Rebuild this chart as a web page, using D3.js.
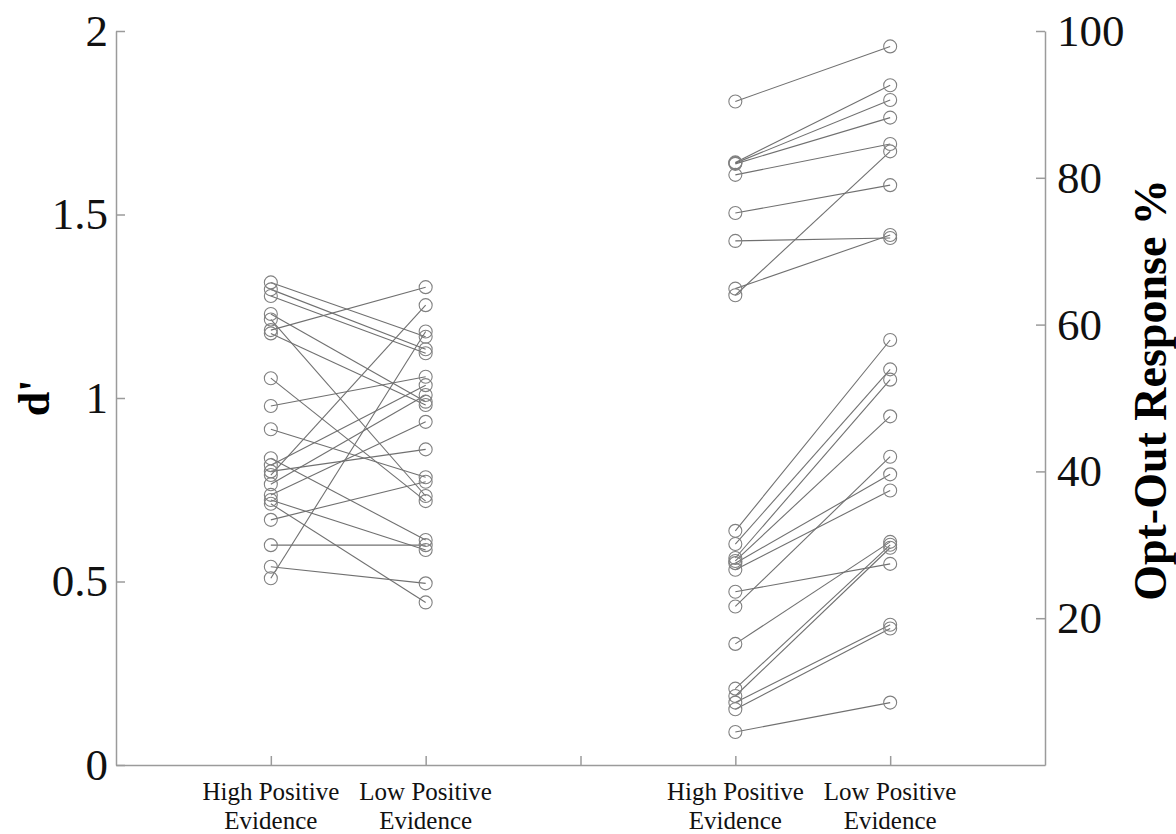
<!DOCTYPE html>
<html>
<head>
<meta charset="utf-8">
<script src="https://cdn.jsdelivr.net/npm/d3@7"></script>
<style>
  body { margin: 0; background: #fff; }
  svg { display: block; }
</style>
</head>
<body>
<svg id="chart" width="1176" height="834"></svg>
<script>

// categories on the shared x axis (group 1 = d', group 2 = opt-out)
const conditions = ["High Positive|Evidence", "Low Positive|Evidence"];
const dPrimePos = [1, 2];
const optOutPos = [4, 5];

// d' per participant (high -> low positive evidence)
const dPrimeHigh = [1.315, 1.296, 1.278, 1.229, 1.214, 1.185, 1.176, 1.054, 0.978, 0.915, 0.836,
                    0.817, 0.800, 0.790, 0.765, 0.736, 0.722, 0.712, 0.668, 0.599, 0.540, 0.509];
const dPrimeLow  = [1.167, 1.133, 1.122, 0.990, 0.733, 1.302, 0.981, 0.719, 1.058, 0.784, 0.613,
                    1.035, 0.860, 1.253, 1.008, 0.935, 0.586, 0.443, 0.772, 0.599, 0.495, 1.181];

// opt-out response % per participant
const optOutHigh = [90.4, 82.1, 82.0, 81.9, 80.4, 75.2, 71.4, 64.9, 64.0,
                    31.9, 30.1, 28.2, 27.8, 27.5, 26.6, 23.6, 21.6, 16.5, 10.4, 9.4, 8.5, 7.6, 4.5];
const optOutLow  = [97.9, 92.6, 90.6, 88.2, 84.6, 79.0, 71.8, 72.2, 83.6,
                    57.9, 53.9, 52.5, 47.5, 39.6, 37.4, 27.4, 42.0, 30.4, 30.0, 29.6, 19.1, 18.6, 8.5];

const dPrimeTicks = [0, 0.5, 1, 1.5, 2];
const optOutTicks = [20, 40, 60, 80, 100];

const vars = {
    width: 1176,
    height: 834,
    margin: { left: 116, right: 131, top: 31, bottom: 69 },
    axisColor: "#9b9b9b",
    lineColor: "#707070",
    dotColor: "#808080",
    radius: 6.5,
    font: "'Liberation Serif', 'Times New Roman', serif"
};

const svg = d3.select("#chart");

const x = d3.scaleLinear()
    .domain([0, 6])
    .range([vars.margin.left, vars.width - vars.margin.right]);

const yLeft = d3.scaleLinear()
    .domain([0, 2])
    .range([vars.height - vars.margin.bottom, vars.margin.top]);

const yRight = d3.scaleLinear()
    .domain([0, 100])
    .range([vars.height - vars.margin.bottom, vars.margin.top]);

//
// AXES
//

const styleAxis = (g, size) => {
    g.select(".domain").attr("stroke", vars.axisColor).attr("stroke-width", 1.5);
    g.selectAll(".tick line").attr("stroke", vars.axisColor).attr("stroke-width", 1.5);
    g.selectAll(".tick text")
        .attr("fill", "#111")
        .style("font-family", vars.font)
        .style("font-size", size + "px");
};

svg.append("g")
    .attr("transform", `translate(0, ${vars.height - vars.margin.bottom})`)
    .call(d3.axisBottom(x).tickValues([1, 2, 3, 4, 5]).tickSize(-9).tickSizeOuter(0).tickFormat(""))
    .call(g => styleAxis(g, 22));

svg.append("g")
    .attr("transform", `translate(${vars.margin.left}, 0)`)
    .call(d3.axisLeft(yLeft).tickValues(dPrimeTicks).tickSize(-9).tickSizeOuter(0)
        .tickPadding(8).tickFormat(d => String(d)))
    .call(g => styleAxis(g, 45));

svg.append("g")
    .attr("transform", `translate(${vars.width - vars.margin.right}, 0)`)
    .call(d3.axisRight(yRight).tickValues(optOutTicks).tickSize(-9).tickSizeOuter(0)
        .tickPadding(12).tickFormat(d => String(d)))
    .call(g => styleAxis(g, 45));

// category labels, two lines each
const catLabels = svg.append("g")
    .selectAll("text")
    .data([...dPrimePos, ...optOutPos].map((p, i) => ({ pos: p, label: conditions[i % 2] })))
    .enter().append("text")
        .attr("x", d => x(d.pos))
        .attr("y", 800)
        .attr("text-anchor", "middle")
        .style("font-family", vars.font)
        .style("font-size", "25px")
        .attr("fill", "#111");

catLabels.selectAll("tspan")
    .data(d => d.label.split("|").map(t => ({ t, pos: d.pos })))
    .enter().append("tspan")
        .attr("x", d => x(d.pos))
        .attr("dy", (d, i) => i === 0 ? 0 : 29)
        .text(d => d.t);

// axis titles
svg.append("text")
    .attr("transform", `translate(49, ${yLeft(1)}) rotate(-90)`)
    .attr("text-anchor", "middle")
    .style("font-family", vars.font)
    .style("font-weight", "bold")
    .style("font-size", "44px")
    .text("d'");

svg.append("text")
    .attr("transform", `translate(1166, ${yLeft(1) - 8}) rotate(-90)`)
    .attr("text-anchor", "middle")
    .style("font-family", vars.font)
    .style("font-weight", "bold")
    .style("font-size", "46px")
    .text("Opt-Out Response %");

//
// PAIRED LINES + DOTS
//

const drawPairs = (high, low, pos, y, id) => {
    const pairs = high.map((h, i) => [
        { x: x(pos[0]), y: y(h) },
        { x: x(pos[1]), y: y(low[i]) }
    ]);

    const g = svg.append("g").attr("id", id);

    g.selectAll("path")
        .data(pairs)
        .enter().append("path")
            .attr("fill", "none")
            .attr("stroke", vars.lineColor)
            .attr("stroke-width", 1.1)
            .attr("d", d3.line().x(d => d.x).y(d => d.y));

    g.selectAll("circle")
        .data(pairs.flat())
        .enter().append("circle")
            .attr("cx", d => d.x)
            .attr("cy", d => d.y)
            .attr("r", vars.radius)
            .attr("fill", "none")
            .attr("stroke", vars.dotColor)
            .attr("stroke-width", 1.1);
};

drawPairs(dPrimeHigh, dPrimeLow, dPrimePos, yLeft, "dprime");
drawPairs(optOutHigh, optOutLow, optOutPos, yRight, "optout");

</script>
</body>
</html>
